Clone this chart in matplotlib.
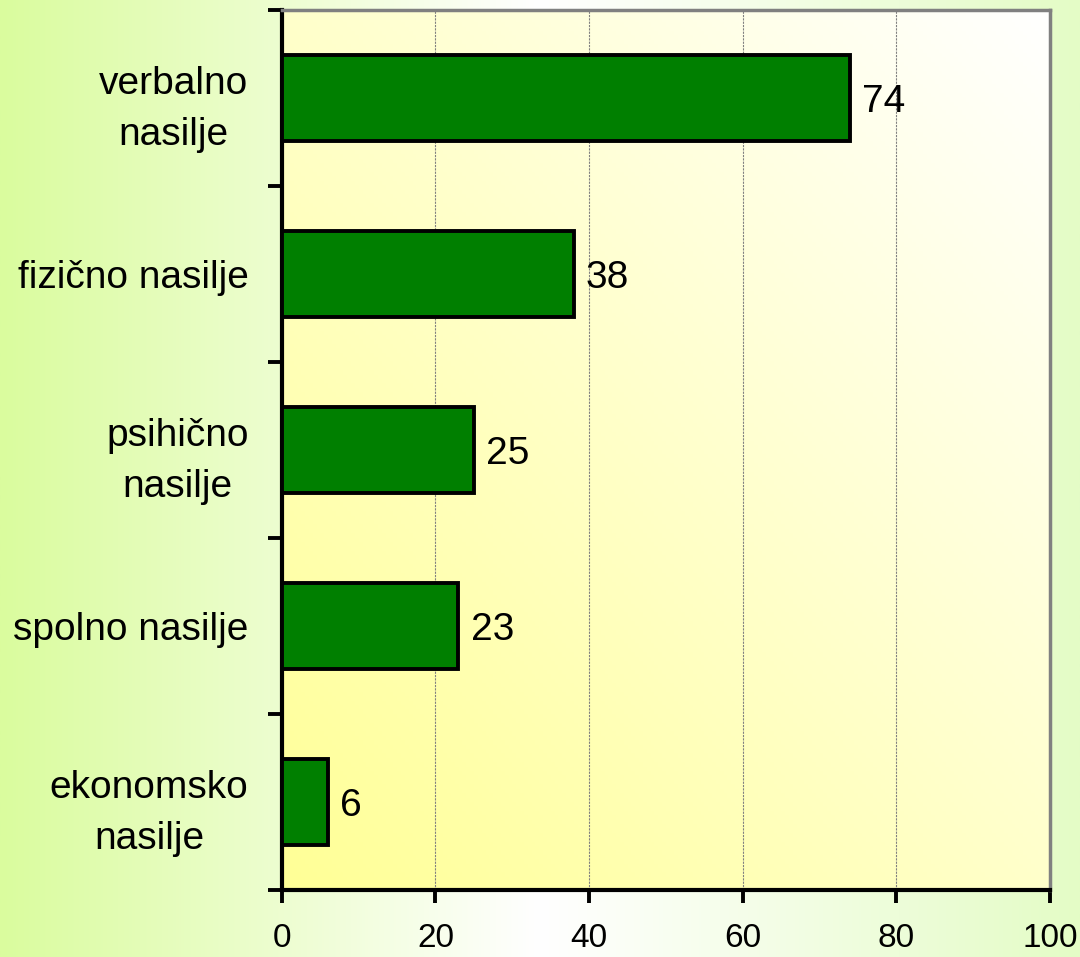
import numpy as np
import matplotlib
matplotlib.use("Agg")
from matplotlib import pyplot as plt

# data
categories = ["verbalno\nnasilje", "fizično nasilje", "psihično\nnasilje", "spolno nasilje", "ekonomsko\nnasilje"]
values = [74, 38, 25, 23, 6]
xticks = [0, 20, 40, 60, 80, 100]

plt.rcParams['font.family'] = ['Liberation Sans', 'DejaVu Sans']

fig = plt.figure(figsize=(10.8, 9.57), dpi=100)

# figure background: green -> white -> green (horizontal)
bg = fig.add_axes([0, 0, 1, 1], zorder=-10)
t = np.linspace(0, 1, 400)
left = np.array([218, 252, 158]) / 255
right = np.array([228, 252, 198]) / 255
white = np.array([1.0, 1.0, 1.0])
w1 = np.clip(1 - t / 0.5, 0, 1)[:, None]
w2 = np.clip((t - 0.5) / 0.5, 0, 1)[:, None]
row = left * w1 + right * w2 + white * (1 - w1 - w2)
bg.imshow(row[None, :, :], aspect='auto', extent=[0, 1, 0, 1])
bg.set_axis_off()

ax = fig.add_axes([0.261, 0.070, 0.711, 0.9196])

# plot-area background: yellow bottom-left -> white top-right
gx, gy = np.meshgrid(np.linspace(0, 1, 200), np.linspace(0, 1, 200))
d = np.clip((gx + gy) / 2, 0, 1)[:, :, None]
yel = np.array([255, 255, 150]) / 255
img = yel * (1 - d) + white * d
ax.imshow(img, aspect='auto', extent=[0, 100, 5, 0], zorder=0, origin='lower')

y = np.arange(len(categories)) + 0.5
ax.barh(y, values, height=0.49, color='#007f00', edgecolor='black', linewidth=2.8, zorder=3)

for yi, v in zip(y, values):
    ax.text(v + 1.6, yi, str(v), va='center_baseline', ha='left', fontsize=28, zorder=4)

ax.set_xlim(0, 100)
ax.set_ylim(5, 0)

ax.set_xticks(xticks)
ax.set_xticklabels([str(x) for x in xticks], fontsize=24)
ax.xaxis.grid(True, color='#808080', linestyle=(0, (2, 1)), linewidth=0.8, zorder=1)
ax.tick_params(axis='x', direction='out', length=9.5, width=2.8, pad=14, colors='black')

ax.set_yticks(y)
ax.set_yticklabels(categories, fontsize=28, ha='right', multialignment='center', linespacing=1.55)
ax.set_yticks(np.arange(0, 6), minor=True)
ax.tick_params(axis='y', which='major', length=0, pad=24)
ax.tick_params(axis='y', which='minor', direction='out', length=10, width=2.8)

ax.spines['left'].set_linewidth(3)
ax.spines['bottom'].set_linewidth(3)
ax.spines['top'].set_color('#808080')
ax.spines['right'].set_color('#808080')
ax.spines['top'].set_linewidth(2.5)
ax.spines['right'].set_linewidth(2.5)
ax.set_axisbelow(True)

fig.savefig("out.png", dpi=100)
